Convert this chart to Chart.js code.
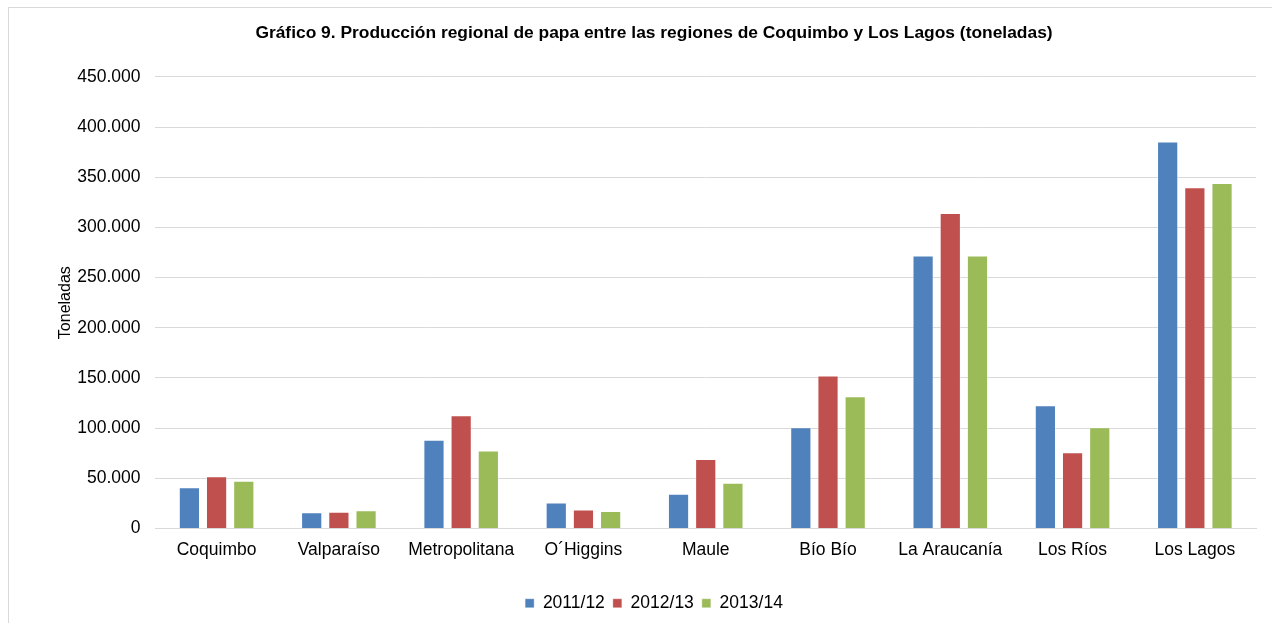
<!DOCTYPE html>
<html>
<head>
<meta charset="utf-8">
<script src="https://cdn.jsdelivr.net/npm/chart.js@4"></script>
<style>
  html, body { margin: 0; padding: 0; background: #fff; overflow: hidden; }
  #frame { position: absolute; left: 8px; top: 7px; width: 1264px; height: 616px; border-top: 1px solid #d9d9d9; border-left: 1px solid #d9d9d9; }
  #chart { display: block; }
</style>
</head>
<body>
<div id="frame"><canvas id="chart" width="1255" height="615"></canvas></div>
<script>
const regiones = ['Coquimbo', 'Valparaíso', 'Metropolitana', 'O´Higgins', 'Maule', 'Bío Bío', 'La Araucanía', 'Los Ríos', 'Los Lagos'];
const temporadas = ['2011/12', '2012/13', '2013/14'];
const prod2011 = [41000, 16300, 88500, 26000, 34600, 101000, 272100, 122800, 385500];
const prod2012 = [52000, 16700, 112800, 19000, 69200, 152400, 314400, 76100, 340000];
const prod2013 = [47500, 18300, 77800, 17500, 45600, 131700, 272100, 100800, 344300];
const colores = ['#4f81bd', '#c0504d', '#9bbb59'];

const fmt = v => String(v).replace(/\B(?=(\d{3})+(?!\d))/g, '.');
const ctx = document.getElementById('chart').getContext('2d');

new Chart(ctx, {
    type: 'bar',
    data: {
        labels: regiones,
        datasets: [prod2011, prod2012, prod2013].map((serie, i) => ({
            label: temporadas[i],
            data: serie,
            backgroundColor: colores[i],
            borderColor: 'rgba(255,255,255,0.35)',
            borderWidth: 1,
            categoryPercentage: 0.667,
            barPercentage: 0.78
        }))
    },
    options: {
        responsive: false,
        animation: false,
        layout: { padding: { left: 43, right: 8, top: 10, bottom: 1 } },
        plugins: {
            title: {
                display: true,
                text: 'Gráfico 9. Producción regional de papa entre las regiones de Coquimbo y Los Lagos (toneladas)',
                color: '#000',
                font: { family: 'Liberation Sans', size: 17.4, weight: 'bold' },
                padding: { top: 5, bottom: 33 }
            },
            legend: {
                position: 'bottom',
                labels: {
                    color: '#000',
                    font: { family: 'Liberation Sans', size: 17.5 },
                    boxWidth: 9,
                    boxHeight: 9,
                    padding: 8
                }
            },
            tooltip: { enabled: false }
        },
        scales: {
            x: {
                grid: { display: false },
                border: { color: '#d9d9d9' },
                ticks: { color: '#000', font: { family: 'Liberation Sans', size: 17.5 }, padding: 3 },
                afterFit: s => { s.height += 23; }
            },
            y: {
                min: 0,
                max: 450000,
                ticks: {
                    stepSize: 50000,
                    color: '#000',
                    font: { family: 'Liberation Sans', size: 17.5 },
                    padding: 15,
                    callback: v => fmt(v)
                },
                grid: { color: '#d9d9d9', drawTicks: false },
                border: { display: false },
                title: {
                    display: true,
                    text: 'Toneladas',
                    color: '#000',
                    font: { family: 'Liberation Sans', size: 16 },
                    padding: { bottom: 6 }
                },
                afterFit: s => { s.width -= 19; }
            }
        }
    }
});
</script>
</body>
</html>
